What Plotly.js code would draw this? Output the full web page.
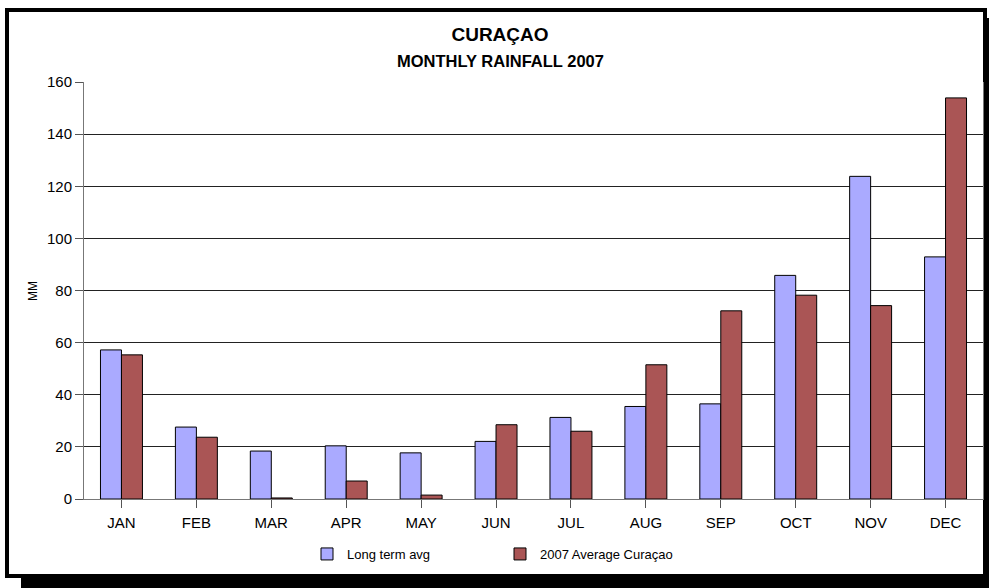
<!DOCTYPE html>
<html>
<head>
<meta charset="utf-8">
<script src="https://cdn.plot.ly/plotly-3.0.1.min.js"></script>
<style>
  html, body { margin:0; padding:0; width:989px; height:588px; overflow:hidden; background:#fff; }
  #frame { position:absolute; left:5px; top:8px; width:982px; height:570px; box-sizing:border-box;
           border:4px solid #000; background:#fff; box-shadow:16px 10px 0 0 #000; }
  #chart { position:absolute; left:0; top:0; width:989px; height:588px; }
</style>
</head>
<body>
<div id="frame"></div>
<div id="chart"></div>
<script>
const months = ['JAN','FEB','MAR','APR','MAY','JUN','JUL','AUG','SEP','OCT','NOV','DEC'];
const longTermAvg = [57.2, 27.6, 18.4, 20.4, 17.7, 22.1, 31.3, 35.5, 36.5, 85.8, 123.8, 92.9];
const avg2007 = [55.3, 23.7, 0.4, 6.9, 1.5, 28.5, 26.0, 51.5, 72.2, 78.2, 74.2, 153.9];
const seriesNames = ['Long term avg', '2007 Average Curaçao'];
const yTicks = [0, 20, 40, 60, 80, 100, 120, 140, 160];

const FONT = 'Liberation Sans, Arial, sans-serif';

const traces = [
  { type:'bar', x: months, y: longTermAvg, name: seriesNames[0], legend:'legend',
    marker:{ color:'#AAAAFF', line:{ color:'#000', width:1 } }, hoverinfo:'skip' },
  { type:'bar', x: months, y: avg2007, name: seriesNames[1], legend:'legend2',
    marker:{ color:'#AA5555', line:{ color:'#000', width:1 } }, hoverinfo:'skip' }
];

const layout = {
  width: 989, height: 588,
  margin: { l: 84, r: 6, t: 82, b: 89, pad: 0 },
  paper_bgcolor: 'rgba(0,0,0,0)',
  plot_bgcolor: '#fff',
  barmode: 'group', bargap: 0.44, bargroupgap: 0,
  font: { family: FONT, color: '#000' },
  title: { text: 'CURAÇAO', font: { family: FONT, size: 19, color: '#000', weight: 'bold' },
           x: 500/989, xref: 'container', xanchor: 'center',
           y: 1 - 34/588, yref: 'container', yanchor: 'middle' },
  xaxis: { type: 'category', range: [-0.5, 11.5], ticks: 'outside', ticklen: 8, tickcolor: '#555',
           ticklabelstandoff: 2,
           tickfont: { size: 15, family: FONT, color: '#000' }, showline: true, linecolor: '#777',
           linewidth: 1, showgrid: false, fixedrange: true },
  yaxis: { range: [0, 160], tickvals: yTicks, ticks: 'outside', ticklen: 8, tickcolor: '#555',
           tickfont: { size: 15, family: FONT, color: '#000' }, showline: true, linecolor: '#777',
           mirror: true, gridcolor: '#222', gridwidth: 1, zeroline: false, fixedrange: true },
  showlegend: true,
  legend: { orientation: 'h', x: (307-84)/899, xanchor: 'left', y: (499-554)/417, yanchor: 'middle',
            font: { size: 13, family: FONT, color: '#000' }, bgcolor: 'rgba(0,0,0,0)' },
  legend2: { orientation: 'h', x: (500-84)/899, xanchor: 'left', y: (499-554)/417, yanchor: 'middle',
            font: { size: 13, family: FONT, color: '#000' }, bgcolor: 'rgba(0,0,0,0)' },
  annotations: [
    { text: 'MONTHLY RAINFALL 2007', xref: 'paper', yref: 'paper', x: (500-84)/899, y: (499-61)/417,
      xanchor: 'center', yanchor: 'middle', showarrow: false,
      font: { family: FONT, size: 16.5, color: '#000', weight: 'bold' } },
    { text: 'MM', xref: 'paper', yref: 'paper', x: (33-84)/899, y: (499-291)/417,
      xanchor: 'center', yanchor: 'middle', textangle: -90, showarrow: false,
      font: { family: FONT, size: 12, color: '#000' } }
  ]
};

Plotly.newPlot('chart', traces, layout, { staticPlot: true, displayModeBar: false });
</script>
</body>
</html>
